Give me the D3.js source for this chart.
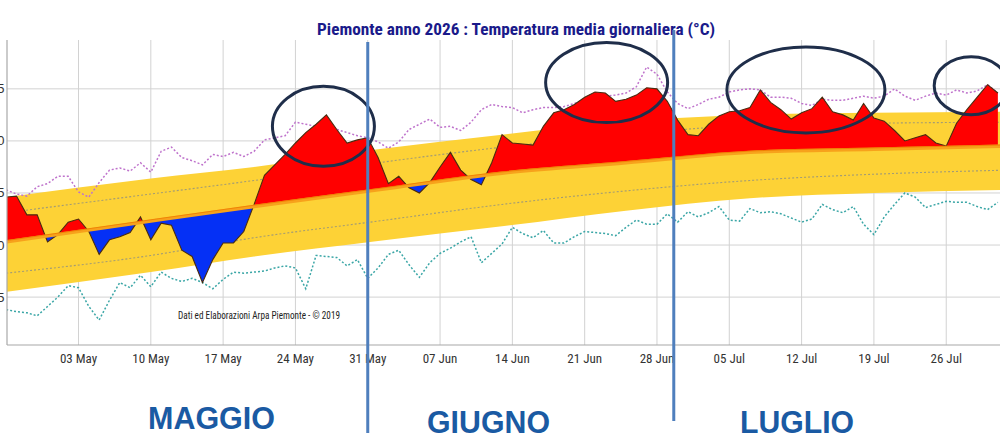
<!DOCTYPE html>
<html><head><meta charset="utf-8">
<script src="https://cdn.jsdelivr.net/npm/d3@7"></script>
<style>html,body{margin:0;padding:0;background:#fff;overflow:hidden}</style>
</head><body><svg id="c" width="1000" height="446"></svg>
<script>
// ---------------- DATA ----------------
const title = "Piemonte anno 2026 : Temperatura media giornaliera (°C)";
const credit = "Dati ed Elaborazioni Arpa Piemonte - © 2019";
const startDate = "2026-04-26"; // first day of the daily series
// observed daily mean temperature (°C), 26 Apr -> 31 Jul
const observed = [
  14.6, 14.7, 12.9, 12.9, 10.3,
  11.0, 12.2, 12.5, 11.3, 9.1, 10.5, 10.8, 11.2, 12.7, 10.5,
  12.1, 11.9, 9.5, 8.9, 6.4, 8.6, 10.2, 10.2, 11.3, 13.9,
  16.7, 17.7, 18.7, 19.8, 20.8, 21.6, 22.5, 21.1, 19.8, 20.1, 20.3,
  18.4, 15.9, 16.6, 15.5, 15.0, 16.0, 17.5, 18.9, 17.2, 16.3,
  15.8, 17.9, 20.6, 19.8, 19.7, 19.6, 21.4, 22.7, 23.0, 23.5,
  24.2, 24.7, 24.6, 23.8, 24.0, 24.4, 25.1, 25.0, 23.8, 22.0,
  20.6, 20.5, 21.6, 22.4, 22.8, 22.9, 23.2, 24.9, 23.7, 23.0,
  22.1, 22.7, 23.1, 24.2, 22.8, 22.5, 22.0, 23.6, 22.2, 21.9,
  21.0, 20.0, 20.3, 20.6, 19.8, 19.5, 21.7, 23.0, 24.2, 25.4, 24.6
];
// daily record maxima of the mean (purple dotted)
const recordMax = [
  15.3, 14.9, 14.7, 15.6, 15.9,
  16.6, 16.6, 15.1, 14.6, 16.0, 17.2, 17.4, 17.1, 17.9, 17.0,
  19.0, 19.4, 18.4, 18.1, 17.7, 18.7, 18.5, 18.9, 18.5, 19.0,
  20.1, 20.3, 20.5, 21.8, 21.6, 21.4, 21.3, 21.1, 20.8, 20.5, 20.3,
  19.9, 19.3, 19.9, 21.1, 21.6, 22.1, 21.3, 21.4, 21.0, 21.8,
  23.0, 23.5, 23.3, 23.2, 22.7, 23.0, 23.2, 23.2, 23.3, 23.6,
  24.0, 24.2, 24.3, 24.4, 24.6, 25.2, 27.1, 26.4, 24.7, 23.6,
  23.1, 23.5, 24.0, 24.2, 24.7, 24.9, 25.0, 24.9, 24.2, 24.2,
  24.1, 23.6, 23.4, 24.0, 23.9, 23.9, 24.1, 24.3, 24.1, 24.3,
  25.0, 24.3, 23.9, 24.3, 24.6, 24.4, 24.9, 24.6, 24.8, 25.4, 24.6
];
// daily record minima of the mean (teal dotted)
const recordMin = [
  3.8, 3.6, 3.5, 3.2, 4.1,
  5.0, 6.1, 5.9, 4.1, 2.8, 4.7, 6.4, 5.9, 7.1, 6.0,
  7.4, 6.8, 6.5, 6.8, 6.4, 5.8, 6.7, 7.4, 7.3, 7.4,
  7.5, 7.8, 8.0, 7.8, 5.8, 9.0, 8.9, 8.8, 8.0, 8.6, 6.8,
  7.8, 9.1, 9.5, 8.1, 6.9, 8.3, 9.2, 9.7, 10.3, 10.8,
  8.3, 9.2, 10.1, 11.7, 11.1, 10.7, 11.4, 10.2, 10.2, 10.8,
  11.3, 11.2, 11.1, 10.9, 11.7, 12.4, 12.0, 12.0, 13.0, 12.2,
  13.2, 12.7, 13.1, 13.7, 12.4, 12.3, 13.5, 13.1, 13.2, 13.0,
  12.6, 12.2, 12.5, 13.9, 13.4, 13.1, 13.7, 12.0, 11.0, 12.7,
  13.9, 15.0, 14.6, 13.6, 13.9, 14.2, 14.1, 14.1, 13.7, 13.4, 14.1
];
// climatology read at a few dates
const climDates = ["2026-04-26","2026-05-10","2026-05-20","2026-06-01","2026-06-13","2026-06-25","2026-07-07","2026-07-19","2026-08-01"];
const normal    = [10.3, 12.3, 13.7, 15.3, 16.9, 17.9, 18.9, 19.2, 19.5];
const bandHigh  = [14.6, 16.4, 17.5, 19.2, 20.6, 21.9, 22.5, 22.7, 22.8];
const bandLow   = [5.5, 7.4, 8.9, 10.4, 11.8, 13.3, 14.5, 15.0, 15.3];
const pctHigh   = [13.1, 14.9, 16.2, 17.9, 19.4, 20.6, 21.5, 21.7, 21.8];
const pctLow    = [7.3, 9.0, 10.7, 12.3, 13.9, 15.2, 16.2, 16.8, 17.2];
// axis ticks
const xTickDates = ["2026-05-03","2026-05-10","2026-05-17","2026-05-24","2026-05-31","2026-06-07","2026-06-14","2026-06-21","2026-06-28","2026-07-05","2026-07-12","2026-07-19","2026-07-26"];
const yTicks = [5, 10, 15, 20, 25];
// annotations
const monthNames = ["MAGGIO", "GIUGNO", "LUGLIO"];
const monthDividers = ["2026-05-31T00:00", "2026-06-29T15:00"];
const highlightCenters = [["2026-05-26T17:00", 21.4], ["2026-06-23T03:00", 25.6], ["2026-07-12T10:00", 24.9], ["2026-07-28T10:00", 25.3]];

// ---------------- CHART ----------------
const svg = d3.select("#c");
const parse = d3.utcParse("%Y-%m-%d");
const parseT = d3.utcParse("%Y-%m-%dT%H:%M");
const pL = 7, pT = 40, pB = 345, pR = 1000;
const x = d3.scaleUtc().domain([parse("2026-04-26"), parse("2026-08-01")]).range([6.2, 1008.2]);
const y = d3.scaleLinear().domain([0.4, 29.5]).range([pB, 42]);

const days = observed.map((_, i) => d3.utcDay.offset(parse(startDate), i));
const obsData = observed.map((v, i) => ({d: days[i], v}));
const maxData = recordMax.map((v, i) => ({d: days[i], v}));
const minData = recordMin.map((v, i) => ({d: days[i], v}));
const clim = climDates.map((s, i) => ({d: parse(s), n: normal[i], hi: bandHigh[i], lo: bandLow[i], ph: pctHigh[i], pl: pctLow[i]}));

const defs = svg.append("defs");
defs.append("clipPath").attr("id", "plot").append("rect")
  .attr("x", pL).attr("y", pT).attr("width", pR - pL).attr("height", pB - pT);
const climCurve = d3.curveMonotoneX;
defs.append("clipPath").attr("id", "aboveN").append("path")
  .attr("d", d3.area().x(d => x(d.d)).y0(0).y1(d => y(d.n)).curve(climCurve)(clim));
defs.append("clipPath").attr("id", "belowN").append("path")
  .attr("d", d3.area().x(d => x(d.d)).y0(d => y(d.n)).y1(446).curve(climCurve)(clim));

// grid
const grid = svg.append("g");
grid.selectAll("line.v").data(xTickDates).join("line")
  .attr("x1", d => x(parse(d))).attr("x2", d => x(parse(d)))
  .attr("y1", pT).attr("y2", pB).attr("stroke", "#d2d2d2").attr("stroke-width", 1);
grid.selectAll("line.h").data(yTicks).join("line")
  .attr("x1", pL).attr("x2", pR).attr("y1", d => y(d)).attr("y2", d => y(d))
  .attr("stroke", "#d2d2d2").attr("stroke-width", 1);

const plot = svg.append("g").attr("clip-path", "url(#plot)");
// band
plot.append("path").attr("fill", "#FDD236")
  .attr("d", d3.area().x(d => x(d.d)).y0(d => y(d.lo)).y1(d => y(d.hi)).curve(climCurve)(clim));
// percentile dotted lines
["ph", "pl"].forEach(k => {
  plot.append("path").attr("fill", "none").attr("stroke", "#a39c74").attr("stroke-width", 1.1)
    .attr("stroke-dasharray", "2,2")
    .attr("d", d3.line().x(d => x(d.d)).y(d => y(d[k])).curve(climCurve)(clim));
});
// records
const lineV = d3.line().x(d => x(d.d)).y(d => y(d.v));
plot.append("path").attr("fill", "none").attr("stroke", "#bf73cc").attr("stroke-width", 1.5)
  .attr("stroke-dasharray", "2,2").attr("d", lineV(maxData));
plot.append("path").attr("fill", "none").attr("stroke", "#3aa6a6").attr("stroke-width", 1.5)
  .attr("stroke-dasharray", "2,2").attr("d", lineV(minData));
// anomaly fills
plot.append("g").attr("clip-path", "url(#aboveN)").append("path").attr("fill", "#FF0000")
  .attr("d", d3.area().x(d => x(d.d)).y0(446).y1(d => y(d.v))(obsData));
plot.append("g").attr("clip-path", "url(#belowN)").append("path").attr("fill", "#0530F5")
  .attr("d", d3.area().x(d => x(d.d)).y0(0).y1(d => y(d.v))(obsData));
// observed line
plot.append("path").attr("fill", "none").attr("stroke", "#4a2c10").attr("stroke-width", 1.1)
  .attr("d", lineV(obsData));
// normal line
plot.append("path").attr("fill", "none").attr("stroke", "#F7A21B").attr("stroke-width", 3.4)
  .attr("d", d3.line().x(d => x(d.d)).y(d => y(d.n)).curve(climCurve)(clim));
plot.append("path").attr("fill", "none").attr("stroke", "#EE7A00").attr("stroke-width", 0.8)
  .attr("d", d3.line().x(d => x(d.d)).y(d => y(d.n) - 1.3).curve(climCurve)(clim));

// axes lines
svg.append("line").attr("x1", pL).attr("x2", pL).attr("y1", pT).attr("y2", pB)
  .attr("stroke", "#a8a8a8").attr("stroke-width", 1.2);
svg.append("line").attr("x1", pL).attr("x2", pR).attr("y1", pB).attr("y2", pB)
  .attr("stroke", "#a8a8a8").attr("stroke-width", 1.2);

const narrow = "'Liberation Sans Narrow','Arial Narrow','Roboto Condensed','Liberation Sans',Arial,sans-serif";
// x tick labels
const fmt = d3.utcFormat("%d %b");
svg.append("g").selectAll("text").data(xTickDates).join("text")
  .attr("x", d => x(parse(d))).attr("y", 363).attr("text-anchor", "middle")
  .attr("font-family", narrow).attr("font-size", 13).attr("fill", "#333")
  .text(d => fmt(parse(d)));
// y tick labels (mostly outside the crop, as in the reference)
svg.append("g").selectAll("text").data(yTicks).join("text")
  .attr("x", 4.5).attr("y", d => y(d) + 4.5).attr("text-anchor", "end")
  .attr("font-family", "'Liberation Sans',Arial,sans-serif").attr("font-size", 13).attr("fill", "#333")
  .text(d => d);

// credit
svg.append("text").attr("x", 178).attr("y", 319).attr("font-family", narrow).attr("font-size", 11)
  .attr("fill", "#222").attr("textLength", 162).attr("lengthAdjust", "spacingAndGlyphs").text(credit);

// title
svg.append("text").attr("x", 317).attr("y", 35).attr("font-family", narrow).attr("font-weight", "bold")
  .attr("font-size", 17).attr("fill", "#1a1a8a").attr("textLength", 398).attr("lengthAdjust", "spacingAndGlyphs")
  .text(title);

// highlight ellipses
const ellR = [[51, 40], [61, 40], [79, 43], [37, 29]];
svg.append("g").selectAll("ellipse").data(highlightCenters).join("ellipse")
  .attr("cx", d => x(parseT(d[0]))).attr("cy", d => y(d[1]))
  .attr("rx", (d, i) => ellR[i][0]).attr("ry", (d, i) => ellR[i][1])
  .attr("fill", "none").attr("stroke", "#1f2e4a").attr("stroke-width", 3);

// month dividers
const divY = [[42, 433], [30, 421]];
svg.append("g").selectAll("line").data(monthDividers).join("line")
  .attr("x1", d => x(parseT(d))).attr("x2", d => x(parseT(d)))
  .attr("y1", (d, i) => divY[i][0]).attr("y2", (d, i) => divY[i][1])
  .attr("stroke", "#4f7fbd").attr("stroke-width", 3);

// month names
const monthPos = [[148, 429, 127], [427, 433, 123], [740, 433, 114]];
svg.append("g").selectAll("text").data(monthNames).join("text")
  .attr("x", (d, i) => monthPos[i][0]).attr("y", (d, i) => monthPos[i][1])
  .attr("font-family", "'Liberation Sans',Arial,sans-serif").attr("font-weight", "bold")
  .attr("font-size", 32).attr("fill", "#1a5aa3")
  .attr("textLength", (d, i) => monthPos[i][2]).attr("lengthAdjust", "spacingAndGlyphs")
  .text(d => d);
</script>
</body></html>
